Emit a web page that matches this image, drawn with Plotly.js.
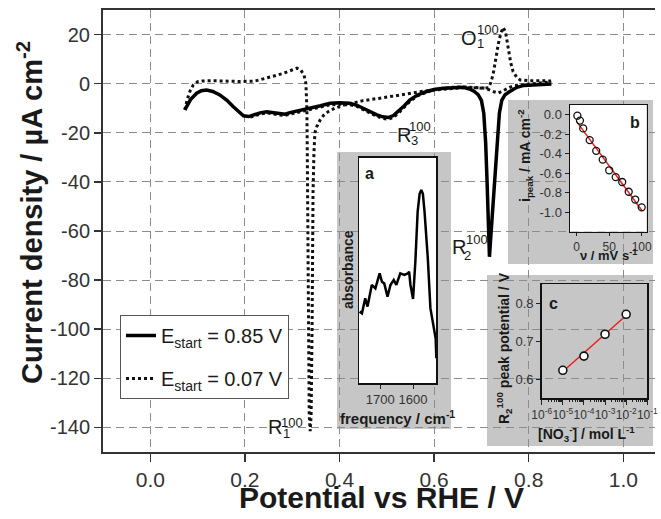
<!DOCTYPE html>
<html><head><meta charset="utf-8">
<script src="https://cdn.plot.ly/plotly-3.0.1.min.js"></script>
<style>html,body{margin:0;padding:0;background:#fff;}#chart{width:661px;height:519px;}</style>
</head><body><div id="chart"></div>
<script>
// ---------- main CV data ----------
const solidX = [0.073,0.085,0.098,0.108,0.119,0.132,0.147,0.162,0.175,0.187,0.197,0.208,0.218,0.232,0.246,0.26,0.274,0.285,0.295,0.315,0.338,0.36,0.38,0.40,0.422,0.437,0.45,0.465,0.479,0.492,0.503,0.514,0.524,0.537,0.549,0.565,0.584,0.60,0.619,0.64,0.662,0.675,0.685,0.693,0.700,0.705,0.709,0.712,0.715,0.717,0.720,0.724,0.729,0.734,0.738,0.743,0.75,0.76,0.775,0.79,0.81,0.83,0.848];
const solidY = [-10.7,-6.5,-3.9,-2.9,-2.6,-3.2,-4.6,-6.8,-9.3,-11.6,-13.1,-13.4,-12.7,-11.9,-11.4,-11.8,-12.3,-12.4,-11.8,-11,-10,-9,-8,-7.8,-8,-8.8,-10,-11.5,-12.7,-13.5,-13.8,-13,-11.4,-9,-6.6,-4.6,-3.2,-2.4,-1.9,-1.6,-1.5,-2.2,-3.2,-4.5,-6.8,-12,-24,-40,-60,-70.5,-62,-50,-40,-22,-12,-6.8,-4.5,-3.2,-1.5,-0.7,-0.4,-0.2,-0.1];

const dotX = [0.073,0.078,0.084,0.091,0.1,0.11,0.13,0.16,0.19,0.22,0.246,0.265,0.281,0.297,0.31,0.318,0.325,0.329,0.331,0.332,0.333,0.334,0.336,0.338,0.34,0.342,0.343,0.344,0.346,0.348,0.352,0.359,0.366,0.376,0.39,0.408,0.43,0.45,0.486,0.52,0.555,0.58,0.62,0.66,0.69,0.705,0.715,0.72,0.725,0.73,0.736,0.741,0.746,0.751,0.757,0.762,0.767,0.775,0.782,0.80,0.82,0.847,
  0.84,0.82,0.80,0.782,0.77,0.76,0.75,0.743,0.736,0.728,0.719,0.71,0.70,0.68,0.66,0.64,0.62,0.6,0.584,0.565,0.549,0.537,0.524,0.514,0.503,0.492,0.479,0.465,0.45,0.437,0.422,0.40,0.38,0.36,0.338,0.315,0.295,0.285,0.274,0.26,0.246,0.232,0.218,0.208];
const dotY = [-10.7,-6.5,-3,-0.5,0.8,1.1,1.2,1.0,0.9,1.0,2.2,3.3,4.2,5.3,6.3,5.6,3.5,0,-10,-30,-60,-100,-135,-141.5,-135,-100,-70,-45,-28,-20,-17.5,-14.8,-13,-11.4,-10,-8.8,-7.8,-6.9,-5.9,-5,-3.8,-3.0,-2.2,-1.6,-1.7,-1.9,-1.6,0.5,4,10,16.4,20.5,22.9,21,13.7,8.5,4.9,2.5,1.5,1.2,1.2,1.1,
  0.6,0.2,-0.1,-0.3,-0.8,-1.5,-2.5,-3.3,-3.8,-3.4,-2.6,-2.0,-1.7,-1.4,-1.3,-1.5,-1.8,-2.4,-3.5,-5.0,-7.2,-9.6,-12.1,-13.7,-14.5,-14.2,-13.3,-12.0,-10.5,-9.3,-8.6,-8.4,-8.6,-9.5,-10.6,-11.6,-12.4,-12.9,-12.8,-12.3,-11.9,-12.4,-13.2,-13.8];

const xTickVals = [0,0.2,0.4,0.6,0.8,1.0];
const xTickText = ['0.0','0.2','0.4','0.6','0.8','1.0'];
const yTickVals = [20,0,-20,-40,-60,-80,-100,-120,-140];
const yTickText = ['20','0','-20','-40','-60','-80','-100','-120','-140'];

// ---------- inset a: IR spectrum ----------
const irFreq = [1763,1756,1746,1739,1726,1715,1702,1695,1688,1678,1669,1659,1651,1639,1627,1616,1612,1608,1600,1593,1586,1580,1575,1570,1565,1555,1547,1537,1531,1529];
const irAbs  = [0.318,0.310,0.377,0.340,0.436,0.421,0.487,0.450,0.443,0.384,0.436,0.458,0.436,0.487,0.480,0.487,0.495,0.436,0.374,0.539,0.761,0.840,0.857,0.840,0.761,0.554,0.332,0.251,0.199,0.111];
const irTickVals = [1700,1600];
const irTickText = ['1700','1600'];

// ---------- inset b: peak current vs scan rate ----------
const scanRate = [1,5,10,20,30,40,50,60,70,80,90,100];
const iPeak = [-0.01,-0.06,-0.14,-0.26,-0.37,-0.46,-0.57,-0.64,-0.69,-0.79,-0.87,-0.95];
const fitBX = [0,100];
const fitBY = [-0.07,-0.98];
const bXTickVals = [0,50,100];
const bXTickText = ['0','50','100'];
const bYTickVals = [0,-0.2,-0.4,-0.6,-0.8,-1.0];
const bYTickText = ['0.0','-0.2','-0.4','-0.6','-0.8','-1.0'];

// ---------- inset c: peak potential vs nitrate concentration ----------
const nitrate = [1e-5,1e-4,1e-3,1e-2];
const peakPot = [0.625,0.662,0.719,0.771];
const fitCX = [1e-5,1e-2];
const fitCY = [0.622,0.768];
const cXTickVals = [1e-6,1e-5,1e-4,1e-3,1e-2,1e-1];
const cXTickText = ['10<sup>-6</sup>','10<sup>-5</sup>','10<sup>-4</sup>','10<sup>-3</sup>','10<sup>-2</sup>','10<sup>-1</sup>'];
const cYTickVals = [0.6,0.7,0.8];
const cYTickText = ['0.6','0.7','0.8'];

// ---------- geometry helpers (pixels -> paper) ----------
const L=103, R=655, T=10, B=452;
const fx = px => (px-L)/(R-L);
const fy = py => (B-py)/(B-T);
const FONT = 'Liberation Sans, Arial, sans-serif';
const TXT = '#1a1a1a';

const cMinor = [];
for (let e=-6; e<-1; e++) for (let m=2; m<10; m++) cMinor.push(m*Math.pow(10,e));

const traces = [
  {x: dotX, y: dotY, mode:'lines', name:'E<sub>start</sub> = 0.07 V', legendrank:2, legendgroup:'g2',
   line:{color:'#111', width:3, dash:'dot'}, xaxis:'x', yaxis:'y'},
  {x: solidX, y: solidY, mode:'lines', name:'E<sub>start</sub> = 0.85 V', legendrank:1, legendgroup:'g1',
   line:{color:'#000', width:3.5}, xaxis:'x', yaxis:'y'},
  {x: irFreq, y: irAbs, mode:'lines', showlegend:false, line:{color:'#000', width:2.5}, xaxis:'x2', yaxis:'y2'},
  {x: fitBX, y: fitBY, mode:'lines', showlegend:false, line:{color:'#e8201c', width:1.5}, xaxis:'x3', yaxis:'y3'},
  {x: scanRate, y: iPeak, mode:'markers', showlegend:false,
   marker:{symbol:'circle-open', size:7, color:'#111', line:{width:1.3, color:'#111'}}, xaxis:'x3', yaxis:'y3'},
  {x: fitCX, y: fitCY, mode:'lines', showlegend:false, line:{color:'#e8201c', width:1.5}, xaxis:'x4', yaxis:'y4'},
  {x: nitrate, y: peakPot, mode:'markers', showlegend:false,
   marker:{symbol:'circle', size:8, color:'#fff', line:{width:1.6, color:'#111'}}, xaxis:'x4', yaxis:'y4'}
];

const ann = [];
function A(text, px, py, size, extra){
  ann.push(Object.assign({text:text, xref:'paper', yref:'paper', x:fx(px), y:fy(py),
    xanchor:'center', yanchor:'middle', showarrow:false,
    font:{size:size, color:TXT, family:FONT}}, extra||{}));
}
// main axis titles
A('<b>Current density / µA cm<sup>-2</sup></b>', 30, 213, 29, {textangle:-90});
A('<b>Potential vs RHE / V</b>', 381, 497, 30);
// peak labels
A('R', 275, 427, 20); A('100', 292, 422, 13); A('1', 286, 433, 13);
A('R', 404, 135, 20); A('100', 420, 127, 13); A('3', 414.5, 141, 13);
A('O', 469, 37.5, 20); A('100', 488, 30, 13); A('1', 480, 43.5, 13);
A('R', 459, 247, 20); A('100', 476.5, 240, 13); A('2', 467.5, 255, 13);
// inset a
A('<b>a</b>', 369, 173, 16);
A('<b>absorbance</b>', 348, 270, 14, {textangle:-90});
A('<b>frequency / cm<sup>-1</sup></b>', 397, 417, 15);
// inset b
A('<b>b</b>', 635, 123, 16);
A('<b>i<sub>peak</sub> / mA cm<sup>-2</sup></b>', 525, 156, 14, {textangle:-90});
A('<b>ν / mV s<sup>-1</sup></b>', 608, 255, 13);
// inset c
A('<b>c</b>', 553, 303, 16);
A('<b>R<sub>2</sub><sup>100</sup> peak potential / V</b>', 504, 348, 14, {textangle:-90});
A('<b>[NO<sub>3</sub><sup>-</sup>] / mol L<sup>-1</sup></b>', 586, 434, 14);

const GRAY = '#c6c6c6';
const shapes = [
  {type:'rect', xref:'paper', yref:'paper', x0:fx(337), x1:fx(451), y0:fy(429), y1:fy(152), fillcolor:GRAY, line:{width:0}, layer:'below'},
  {type:'rect', xref:'paper', yref:'paper', x0:fx(508), x1:fx(653), y0:fy(264), y1:fy(100), fillcolor:GRAY, line:{width:0}, layer:'below'},
  {type:'rect', xref:'paper', yref:'paper', x0:fx(487), x1:fx(653), y0:fy(446), y1:fy(275), fillcolor:GRAY, line:{width:0}, layer:'below'},
  {type:'rect', xref:'x2', yref:'y2', x0:1765, x1:1530, y0:0, y1:1, fillcolor:'#fff', line:{width:0}, layer:'below'},
  {type:'rect', xref:'x3', yref:'y3', x0:-10.3, x1:107.7, y0:-1.2, y1:0.1, fillcolor:'#fff', line:{width:0}, layer:'below'},
  {type:'rect', xref:'x4', yref:'y4', x0:-6, x1:-1, y0:0.552, y1:0.85, fillcolor:'#fff', line:{width:0}, layer:'below'}
];

const insetAxis = {showline:true, mirror:true, linecolor:'#111', linewidth:1.5, showgrid:false, zeroline:false,
  ticks:'outside', ticklen:4, tickwidth:1, tickcolor:'#222', tickfont:{size:13, color:'#333', family:FONT}};

const layout = {
  width:661, height:519,
  margin:{l:L, r:661-R, t:T, b:519-B},
  paper_bgcolor:'#fff', plot_bgcolor:'rgba(0,0,0,0)',
  font:{family:FONT, color:TXT},
  showlegend:true,
  legend:{x:fx(120), y:fy(315), xanchor:'left', yanchor:'top', bgcolor:'#fff', bordercolor:'#555', borderwidth:1,
    font:{size:20, color:TXT, family:FONT}, itemwidth:30, tracegroupgap:14},
  xaxis:{domain:[0,1], range:[-0.1,1.067], anchor:'y', tickmode:'array', tickvals:xTickVals, ticktext:xTickText,
    ticks:'outside', ticklen:8, tickwidth:1.5, tickcolor:'#333', showline:true, mirror:true, linecolor:'#333', linewidth:2,
    showgrid:true, gridcolor:'#8c8c8c', gridwidth:1, griddash:'8px,5px', zeroline:false,
    tickfont:{size:21, color:'#333', family:FONT}},
  yaxis:{domain:[0,1], range:[-150,30], anchor:'x', tickmode:'array', tickvals:yTickVals, ticktext:yTickText,
    ticks:'outside', ticklen:7, tickwidth:1.5, tickcolor:'#333', showline:true, linecolor:'#333', linewidth:2,
    showgrid:true, gridcolor:'#8c8c8c', gridwidth:1, griddash:'8px,5px', zeroline:false,
    tickfont:{size:20, color:'#333', family:FONT}},
  xaxis2:Object.assign({}, insetAxis, {domain:[fx(359), fx(436)], range:[1765,1530], anchor:'y2', tickmode:'array', tickvals:irTickVals, ticktext:irTickText}),
  yaxis2:Object.assign({}, insetAxis, {domain:[fy(383.3), fy(157.7)], range:[0,1], anchor:'x2', ticks:'', showticklabels:false}),
  xaxis3:Object.assign({}, insetAxis, {domain:[fx(570), fx(646.7)], range:[-10.3,107.7], anchor:'y3', tickmode:'array', tickvals:bXTickVals, ticktext:bXTickText,
    ticklen:3, tickfont:{size:12, color:'#333', family:FONT}}),
  yaxis3:Object.assign({}, insetAxis, {domain:[fy(231.7), fy(105)], range:[-1.2,0.1], anchor:'x3', tickmode:'array', tickvals:bYTickVals, ticktext:bYTickText}),
  xaxis4:Object.assign({}, insetAxis, {type:'log', domain:[fx(541.7), fx(647.3)], range:[-6,-1], anchor:'y4', tickmode:'array', tickvals:cXTickVals, ticktext:cXTickText, tickangle:0, ticklen:5,
    tickfont:{size:12, color:'#333', family:FONT},
    minor:{tickmode:'array', tickvals:cMinor, ticks:'outside', ticklen:2.5, tickcolor:'#222', showgrid:false}}),
  yaxis4:Object.assign({}, insetAxis, {domain:[fy(398.3), fy(284)], range:[0.552,0.85], anchor:'x4', tickmode:'array', tickvals:cYTickVals, ticktext:cYTickText}),
  shapes:shapes,
  annotations:ann
};

Plotly.newPlot('chart', traces, layout, {staticPlot:true, displayModeBar:false});
</script></body></html>
